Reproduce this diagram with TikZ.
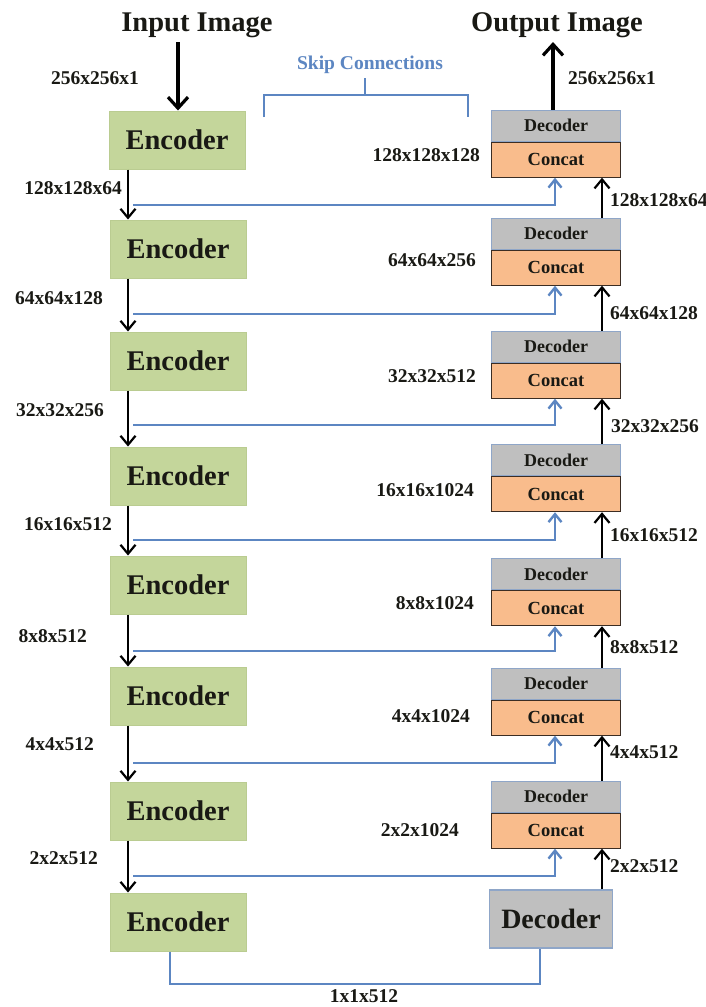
\documentclass[tikz,border=0pt]{standalone}
\usepackage{fontspec}
\setmainfont{Liberation Serif}
\usetikzlibrary{arrows.meta}
\definecolor{encfill}{RGB}{196,214,155}
\definecolor{encdraw}{RGB}{186,204,145}
\definecolor{decfill}{RGB}{191,191,191}
\definecolor{decdraw}{RGB}{143,166,200}
\definecolor{catfill}{RGB}{249,188,140}
\definecolor{catdraw}{RGB}{60,45,35}
\definecolor{skipblue}{RGB}{92,134,194}
\definecolor{ink}{RGB}{25,25,20}
\tikzset{
  encbox/.style={draw=encdraw,fill=encfill,line width=1pt,minimum width=136pt,minimum height=58pt,inner sep=0pt,text=ink,font=\fontsize{28.5}{30}\selectfont\bfseries},
  decgray/.style={draw=decdraw,fill=decfill,line width=1pt,minimum width=129pt,minimum height=31pt,inner sep=0pt,text=ink,font=\fontsize{18}{20}\selectfont\bfseries},
  catbox/.style={draw=catdraw,fill=catfill,line width=1.2pt,minimum width=129pt,minimum height=35pt,inner sep=0pt,text=ink,font=\fontsize{18.5}{20}\selectfont\bfseries},
  decbig/.style={draw=decdraw,fill=decfill,line width=1.2pt,minimum width=123pt,minimum height=58pt,inner sep=0pt,text=ink,font=\fontsize{28}{30}\selectfont\bfseries},
  dim/.style={font=\fontsize{19.5}{21}\selectfont\bfseries,inner sep=0pt,text=ink},
  title/.style={font=\fontsize{28.5}{30}\selectfont\bfseries,inner sep=0pt,text=ink},
  blk/.style={draw=black,line width=2.2pt,-{Straight Barb[length=9pt,width=15pt,line width=2.2pt]}},
  blkthick/.style={draw=black,line width=3.2pt,-{Straight Barb[length=11pt,width=20pt,line width=3.2pt]}},
  skip/.style={draw=skipblue,line width=2.2pt,-{Straight Barb[length=8pt,width=13pt,line width=2.4pt]}},
  skipline/.style={draw=skipblue,line width=2.2pt},
}
\begin{document}
\begin{tikzpicture}[x=1pt,y=-1pt]
\useasboundingbox[fill=white] (0,0) rectangle (706,1007);
% encoders
\node[encbox] (e1) at (177,140) {Encoder};
\node[encbox] (e2) at (178,249) {Encoder};
\node[encbox] (e3) at (178,361) {Encoder};
\node[encbox] (e4) at (178,476) {Encoder};
\node[encbox] (e5) at (178,585) {Encoder};
\node[encbox] (e6) at (178,696) {Encoder};
\node[encbox] (e7) at (178,811) {Encoder};
\node[encbox] (e8) at (178,922) {Encoder};
% decoders
\node[decgray] (d1) at (556,125.5) {Decoder};
\node[catbox,anchor=north] (c1) at (d1.south) {Concat};
\node[decgray] (d2) at (556,233.5) {Decoder};
\node[catbox,anchor=north] (c2) at (d2.south) {Concat};
\node[decgray] (d3) at (556,346.5) {Decoder};
\node[catbox,anchor=north] (c3) at (d3.south) {Concat};
\node[decgray] (d4) at (556,460) {Decoder};
\node[catbox,anchor=north] (c4) at (d4.south) {Concat};
\node[decgray] (d5) at (556,574) {Decoder};
\node[catbox,anchor=north] (c5) at (d5.south) {Concat};
\node[decgray] (d6) at (556,683.5) {Decoder};
\node[catbox,anchor=north] (c6) at (d6.south) {Concat};
\node[decgray] (d7) at (556,796.5) {Decoder};
\node[catbox,anchor=north] (c7) at (d7.south) {Concat};
\node[decbig] (d8) at (551,919) {Decoder};
% titles
\node[title] (tin) at (197,25) {Input Image};
\node[title] (tout) at (557,25) {Output Image};
\coordinate (inTop) at (178,42);
\coordinate (outTop) at (553,42);
\draw[blkthick] (inTop) -- (e1.north -| inTop);
\draw[blkthick] (d1.north -| outTop) -- (outTop);
% skip connections label and brace
\node[font=\fontsize{19.5}{21}\selectfont\bfseries,text=skipblue,inner sep=0pt] (sk) at (370,65) {Skip Connections};
\coordinate (bl) at (264,117);
\coordinate (br) at (468,117);
\coordinate (bm) at (365,78);
\draw[skipblue,line width=2pt] (bl) |- (br |- 0,95) -- (br);
\draw[skipblue,line width=2pt] (bm) -- (bm |- 0,95);
% encoder down arrows
\foreach \a/\b in {e1/e2,e2/e3,e3/e4,e4/e5,e5/e6,e6/e7,e7/e8}{
  \draw[blk] (\a.south -| 128,0) -- (\b.north -| 128,0);
}
% skip connections
\foreach \y/\c in {205/c1,314/c2,425/c3,540/c4,651/c5,763/c6,876/c7}{
  \draw[skip] (133,\y) -| (\c.south -| 555,0);
}
% decoder up arrows
\foreach \a/\b in {d2/c1,d3/c2,d4/c3,d5/c4,d6/c5,d7/c6,d8/c7}{
  \draw[blk] (\a.north -| 602,0) -- (\b.south -| 602,0);
}
% bottleneck
\draw[skipline] (e8.south -| 170,0) -- (170,984) -- (540,984) -- (d8.south -| 540,0);
% labels
\node[dim] (l0) at (95,78) {256x256x1};
\node[dim,anchor=west] (r0) at (568,78) {256x256x1};
\node[dim,anchor=east] (l1) at (122,188) {128x128x64};
\node[dim,anchor=east] (l2) at (103,298) {64x64x128};
\node[dim,anchor=east] (l3) at (104,410) {32x32x256};
\node[dim,anchor=east] (l4) at (112,524) {16x16x512};
\node[dim,anchor=east] (l5) at (87,636) {8x8x512};
\node[dim,anchor=east] (l6) at (94,744) {4x4x512};
\node[dim,anchor=east] (l7) at (98,858) {2x2x512};
\node[dim,anchor=east] (m1) at (480,155) {128x128x128};
\node[dim,anchor=east] (m2) at (476,260) {64x64x256};
\node[dim,anchor=east] (m3) at (476,376) {32x32x512};
\node[dim,anchor=east] (m4) at (474,490) {16x16x1024};
\node[dim,anchor=east] (m5) at (474,603) {8x8x1024};
\node[dim,anchor=east] (m6) at (470,716) {4x4x1024};
\node[dim,anchor=east] (m7) at (459,830) {2x2x1024};
\node[dim,anchor=west] (r1) at (610,200) {128x128x64};
\node[dim,anchor=west] (r2) at (610,313) {64x64x128};
\node[dim,anchor=west] (r3) at (611,426) {32x32x256};
\node[dim,anchor=west] (r4) at (610,535) {16x16x512};
\node[dim,anchor=west] (r5) at (610,647) {8x8x512};
\node[dim,anchor=west] (r6) at (610,752) {4x4x512};
\node[dim,anchor=west] (r7) at (610,866) {2x2x512};
\node[dim] (bn) at (364,996) {1x1x512};
\end{tikzpicture}
\end{document}
